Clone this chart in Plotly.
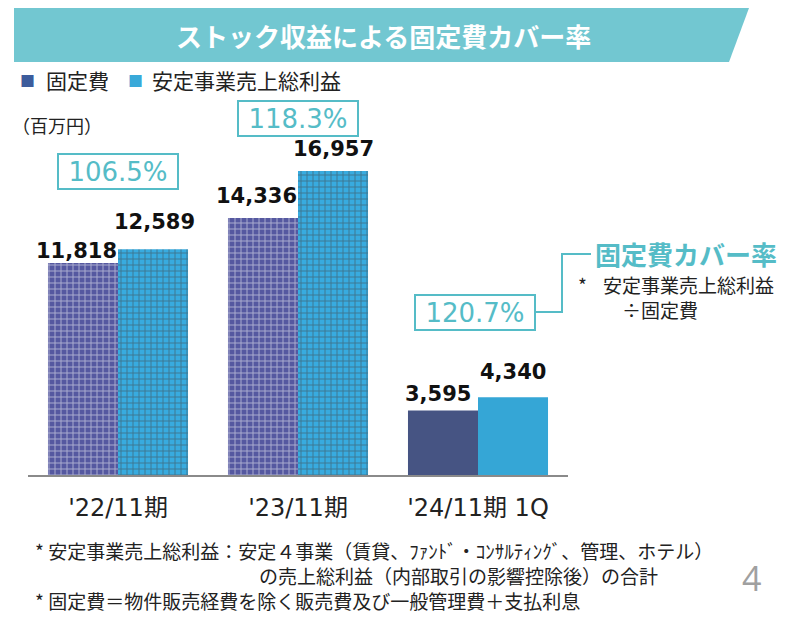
import plotly.graph_objects as go

# data
periods = ["'22/11期", "'23/11期", "'24/11期 1Q"]
fixed_cost = [11818, 14336, 3595]
stable_profit = [12589, 16957, 4340]
cover_ratio = [106.5, 118.3, 120.7]

JP = "Noto Sans CJK JP"
LAT = "DejaVu Sans, Noto Sans CJK JP"
TEAL = "#55bcc7"

# page body adds an 8px margin, so screen pixel targets are shifted back by OFF
OFF = 8
L, R, T, B = 28 - OFF, 568 - OFF, 100 - OFF, 475 - OFF


def px(x):
    return (x - OFF - L) / (R - L)


def py(y):
    return (B - (y - OFF)) / (B - T)


fig = go.Figure()

fig.add_trace(go.Bar(
    x=periods, y=fixed_cost, name="固定費",
    marker=dict(color=["#5558a0", "#5558a0", "#465483"], line_width=0,
                pattern=dict(shape=["+", "+", ""], size=6, solidity=0.3,
                             fgcolor="#cfd1ea", bgcolor="#5558a0")),
    hoverinfo="skip",
))
fig.add_trace(go.Bar(
    x=periods, y=stable_profit, name="安定事業売上総利益",
    marker=dict(color=["#38abdf", "#38abdf", "#35a6d6"], line_width=0,
                pattern=dict(shape=["+", "+", ""], size=6, solidity=0.3,
                             fgcolor="#c6e9f8", bgcolor="#38abdf")),
    hoverinfo="skip",
))

ann = []

# value labels (nudged like the original slide)
lab_dx = [[-7, -7, -5], [1, 0, 0]]
lab_dy = [[12, 22, 17], [27, 22, 25]]
for k, (vals, side) in enumerate([(fixed_cost, -35), (stable_profit, 35)]):
    for i, v in enumerate(vals):
        ann.append(dict(x=periods[i], y=v, xref="x", yref="y",
                        text=f"<b>{v:,}</b>", showarrow=False,
                        xanchor="center", yanchor="middle",
                        xshift=side + lab_dx[k][i], yshift=lab_dy[k][i],
                        font=dict(family=LAT, size=21, color="#111")))

# title banner
shapes = [dict(
    type="path", xref="paper", yref="paper", layer="below",
    path=f"M {px(14)},{py(8)} L {px(749)},{py(8)} L {px(729)},{py(62)} L {px(14)},{py(62)} Z",
    fillcolor="#72c7d1", line_width=0,
)]
# connector from 1Q ratio box to the caption
shapes.append(dict(
    type="path", xref="paper", yref="paper",
    path=f"M {px(536)},{py(312)} L {px(562)},{py(312)} L {px(562)},{py(254)} L {px(591)},{py(254)}",
    line=dict(color=TEAL, width=2),
))


def note(x, y, text, size, color="#222", family=JP, xanchor="left", **kw):
    ann.append(dict(x=px(x), y=py(y), xref="paper", yref="paper", text=text,
                    showarrow=False, xanchor=xanchor, yanchor="middle",
                    font=dict(family=family, size=size, color=color), **kw))


note(383, 35, "<b>ストック収益による固定費カバー率</b>", 26, "white", xanchor="center")

# legend
note(18, 80, "■", 15, "#3d5c9c")
note(44, 80, "固定費", 21)
note(126, 80, "■", 15, "#39a9d9")
note(150, 80, "安定事業売上総利益", 21)
note(10, 125, "（百万円）", 18)

# ratio boxes
box_pos = [(118, 171), (298, 118), (475, 312)]
for r, (bx, by) in zip(cover_ratio, box_pos):
    ann.append(dict(x=px(bx), y=py(by), xref="paper", yref="paper",
                    text=f"{r:.1f}%", showarrow=False,
                    xanchor="center", yanchor="middle",
                    width=116, height=31, bordercolor=TEAL, borderwidth=2,
                    borderpad=1, bgcolor="white",
                    font=dict(family=LAT, size=26, color=TEAL)))

note(593, 253, "<b>固定費カバー率</b>", 26, TEAL)
note(576, 284, "*", 19)
note(601, 284, "安定事業売上総利益", 19)
note(620, 309, "÷固定費", 19)

# footnotes
note(33, 550, "* 安定事業売上総利益：安定４事業（賃貸、ﾌｧﾝﾄﾞ・ｺﾝｻﾙﾃｨﾝｸﾞ、管理、ホテル）", 19)
note(257, 575, "の売上総利益（内部取引の影響控除後）の合計", 19)
note(33, 600, "* 固定費＝物件販売経費を除く販売費及び一般管理費＋支払利息", 19)
note(751, 578, "4", 34, "#a0a0a0", family="Open Sans", xanchor="center")

fig.update_layout(
    width=796, height=623,
    margin=dict(l=L, r=796 - R, t=T, b=623 - B, pad=0),
    paper_bgcolor="white", plot_bgcolor="white",
    barmode="group", bargap=0.222, bargroupgap=0,
    showlegend=False,
    shapes=shapes, annotations=ann,
    xaxis=dict(showline=True, linecolor="#8a8a8a", linewidth=1.5,
               showgrid=False, ticks="", ticklabelstandoff=10,
               tickfont=dict(family=LAT, size=24, color="#222")),
    yaxis=dict(visible=False, range=[0, 20915]),
)

fig.write_html("out.html")
